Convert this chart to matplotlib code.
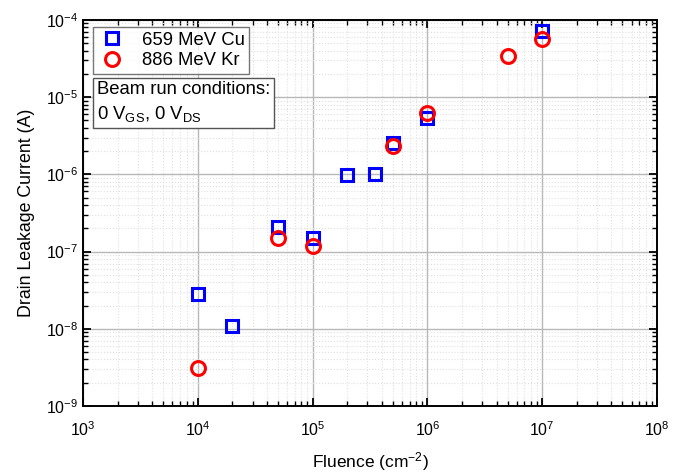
import numpy as np
import matplotlib.pyplot as plt
from matplotlib.ticker import NullFormatter

plt.rcParams['font.family'] = ['Liberation Sans', 'DejaVu Sans']
plt.rcParams['mathtext.fontset'] = 'custom'
plt.rcParams['mathtext.rm'] = 'Liberation Sans'
plt.rcParams['mathtext.it'] = 'Liberation Sans:italic'

# fluence (cm^-2) and drain leakage current (A)
cu_fluence = [1e4, 2e4, 5e4, 1e5, 2e5, 3.5e5, 5e5, 1e6, 1e7]
cu_current = [2.8e-8, 1.08e-8, 2.08e-7, 1.5e-7, 9.7e-7, 1.0e-6, 2.55e-6, 5.3e-6, 7.3e-5]

kr_fluence = [1e4, 5e4, 1e5, 5e5, 1e6, 5e6, 1e7]
kr_current = [3.1e-9, 1.5e-7, 1.18e-7, 2.3e-6, 6.2e-6, 3.4e-5, 5.6e-5]

fig = plt.figure(figsize=(6.83, 4.75), dpi=100)
ax = fig.add_axes([0.1215, 0.1453, 0.8405, 0.8127])

ax.plot(cu_fluence, cu_current, 's', ms=9, mfc='none', mec='#0000ff', mew=2.2,
        label='659 MeV Cu', zorder=3)
ax.plot(kr_fluence, kr_current, 'o', ms=10, mfc='none', mec='#ff0000', mew=2.2,
        label='886 MeV Kr', zorder=4)

ax.set_xscale('log')
ax.set_yscale('log')
ax.set_xlim(1e3, 1e8)
ax.set_ylim(1e-9, 1e-4)
ax.xaxis.set_minor_formatter(NullFormatter())
ax.yaxis.set_minor_formatter(NullFormatter())

ax.grid(True, which='major', color='#b8b8b8', lw=1.0)
ax.grid(True, which='minor', color='#e0e0e0', lw=0.8, ls=':')
ax.set_axisbelow(True)

ax.tick_params(which='both', direction='in', top=True, right=True, labelsize=11.5)
ax.tick_params(which='major', length=6, width=1.3)
ax.tick_params(which='minor', length=3.5, width=1.0)
ax.tick_params(axis='x', which='major', pad=10)
for s in ax.spines.values():
    s.set_linewidth(1.4)

ax.set_xlabel('Fluence (cm$^{-2}$)', fontsize=12.5, labelpad=8)
ax.set_ylabel('Drain Leakage Current (A)', fontsize=12.8, labelpad=8)

leg = ax.legend(loc='upper left', bbox_to_anchor=(0.017, 0.982), fontsize=13.3,
                frameon=True, fancybox=False, edgecolor='#555555',
                handletextpad=0.8, borderpad=0.25, labelspacing=0.2,
                handlelength=1.6, borderaxespad=0)
leg.get_frame().set_linewidth(1.0)

ax.text(0.024, 0.843, 'Beam run conditions:\n0 V$_{\\mathrm{GS}}$, 0 V$_{\\mathrm{DS}}$',
        transform=ax.transAxes, fontsize=13.3, va='top', ha='left', linespacing=1.45,
        bbox=dict(boxstyle='square,pad=0.2', fc='white', ec='#555555', lw=1.0))

fig.savefig('out.png', dpi=100)
